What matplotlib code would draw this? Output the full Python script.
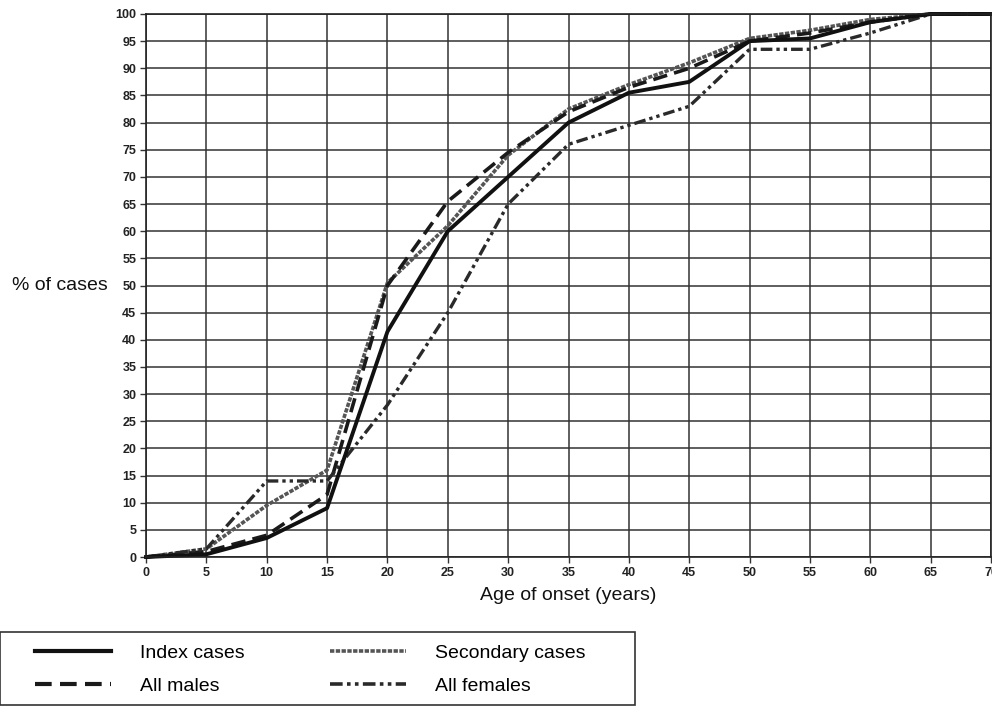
import matplotlib
matplotlib.use("Agg")
import matplotlib.pyplot as plt
from matplotlib.lines import Line2D
from matplotlib.patches import Rectangle

plt.rcParams['font.family'] = ['Liberation Sans', 'DejaVu Sans']

age = [0, 5, 10, 15, 20, 25, 30, 35, 40, 45, 50, 55, 60, 65, 70]
index_cases = [0, 0.5, 3.5, 9, 41.5, 60, 70, 80, 85.5, 87.5, 95, 95.5, 98.5, 100, 100]
secondary_cases = [0, 1.5, 9.5, 16, 50.5, 61, 74, 82.5, 87, 91, 95.5, 97, 99, 100, 100]
all_males = [0, 1, 4, 11.5, 50, 65.5, 74.5, 82, 86.5, 90, 95, 96.5, 98.5, 100, 100]
all_females = [0, 1.5, 14, 14, 28, 45, 65, 76, 79.5, 83, 93.5, 93.5, 96.5, 100, 100]

fig = plt.figure(figsize=(9.92, 7.11), dpi=100)
ax = fig.add_axes([146/992, 1-557/711, (991-146)/992, (557-14)/711])

ax.set_xlim(0, 70)
ax.set_ylim(0, 100)
ax.set_xticks(range(0, 71, 5))
ax.set_yticks(range(0, 101, 5))
ax.grid(True, color='#333333', linewidth=1.1)
ax.set_axisbelow(True)
for s in ax.spines.values():
    s.set_color('#222222')
    s.set_linewidth(1.2)
ax.tick_params(axis='both', length=4, width=1, color='#333333', labelsize=9, pad=3)
for lab in ax.get_xticklabels() + ax.get_yticklabels():
    lab.set_fontweight('bold')
    lab.set_color('#222222')

l_sec, = ax.plot(age, secondary_cases, color='#555555', linewidth=2.6,
                 linestyle=(0, (1.2, 0.4)), label='Secondary cases', clip_on=False)
l_male, = ax.plot(age, all_males, color='#1a1a1a', linewidth=2.6,
                  linestyle=(0, (4, 2)), label='All males', clip_on=False)
l_fem, = ax.plot(age, all_females, color='#2a2a2a', linewidth=2.4,
                 linestyle=(0, (3.5, 1.2, 1, 1.2, 1, 1.2)), label='All females', clip_on=False)
l_idx, = ax.plot(age, index_cases, color='#111111', linewidth=2.8,
                 linestyle='-', label='Index cases', clip_on=False)

ax.set_xlabel('Age of onset (years)', fontsize=14, labelpad=6, color='#111111')
fig.text(60/992, 1-285/711, '% of cases', fontsize=14, ha='center', va='center', color='#111111')

# legend
fig.patches.append(Rectangle((0/992, 1-705/711), 635/992, 73/711,
                             transform=fig.transFigure, fill=False,
                             edgecolor='#333333', linewidth=1.2))
h_idx = Line2D([], [], color='#111111', linewidth=3)
h_sec = Line2D([], [], color='#555555', linewidth=2.6, linestyle=(0, (1.2, 0.4)))
h_male = Line2D([], [], color='#1a1a1a', linewidth=3, linestyle=(0, (4, 2)))
h_fem = Line2D([], [], color='#2a2a2a', linewidth=2.6, linestyle=(0, (3.5, 1.2, 1, 1.2, 1, 1.2)))
fig.legend([h_idx, h_male, h_sec, h_fem],
           ['Index cases', 'All males', 'Secondary cases', 'All females'],
           ncol=2, loc='upper left', bbox_to_anchor=(35/992, 1-644/711),
           bbox_transform=fig.transFigure, frameon=False, borderpad=0,
           borderaxespad=0, fontsize=14, handlelength=3.9, handletextpad=1.5,
           columnspacing=4.4, labelspacing=0.8)

fig.savefig('out.png', dpi=100)
